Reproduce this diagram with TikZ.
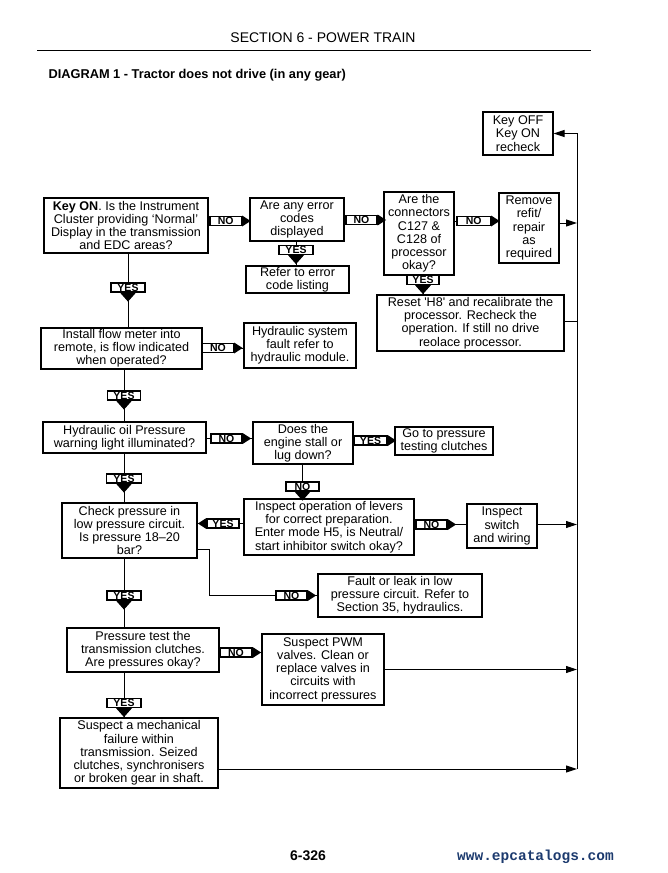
\documentclass[tikz,border=0pt]{standalone}
\usepackage{fontspec}
\setmainfont{Liberation Sans}
\newfontfamily\urlfont{Liberation Mono}
\usetikzlibrary{arrows.meta}
\definecolor{urlblue}{RGB}{28,58,110}
\pgfdeclarelayer{bg}
\pgfsetlayers{bg,main}
\newcommand\tipright[1]{\fill (#1.east) ++(0,-5.5) -- ++(8.5,5.5) -- ++(-8.5,5.5) -- cycle;}
\newcommand\tipleft[1]{\fill (#1.west) ++(0,-5.5) -- ++(-8.5,5.5) -- ++(8.5,5.5) -- cycle;}
\newcommand\tipdown[1]{\fill (#1.south) ++(-8,0) -- ++(8,9) -- ++(8,-9) -- cycle;}
\begin{document}
\begin{tikzpicture}[x=1pt,y=-1pt,
  box/.style={draw, line width=1.2pt, align=center, inner sep=0pt, fill=white,
    font=\fontsize{12.6}{13.2}\selectfont},
  tag/.style={draw, fill=white, line width=1.2pt, inner sep=0pt, minimum height=9pt,
    font=\bfseries\fontsize{10.5}{10.5}\selectfont},
  link/.style={line width=1pt},
  feed/.style={line width=1pt, -{Triangle[length=11pt,width=7pt]}},
]
\useasboundingbox (0,0) rectangle (667,873);

% header
\node (hdr) at (323,38) {\fontsize{14}{14}\selectfont SECTION 6 - POWER TRAIN};
\draw[line width=1pt] (37,50) -- (591,50);
\node[anchor=west] (dtitle) at (45,75) {\bfseries\fontsize{12.8}{12.8}\selectfont DIAGRAM 1 - Tractor does not drive (in any gear)};

% boxes
\node[box, minimum width=164pt, minimum height=55pt] (keyon) at (126,225.5)
  {\textbf{Key ON}. Is the Instrument\\Cluster providing `Normal'\\Display in the transmission\\and EDC areas?};
\node[box, minimum width=94pt, minimum height=43pt] (err) at (297,219.5)
  {Are any error\\codes\\displayed};
\node[box, minimum width=103pt, minimum height=27pt] (refer) at (297.5,279.5)
  {Refer to error\\code listing};
\node[box, minimum width=70pt, minimum height=83pt] (conn) at (419,233.5)
  {Are the\\connectors\\C127 \&\\C128 of\\processor\\okay?};
\node[box, minimum width=60pt, minimum height=70pt] (remove) at (529,228)
  {Remove\\refit/\\repair\\as\\required};
\node[box, minimum width=70pt, minimum height=43pt] (keyoff) at (518,133.5)
  {Key OFF\\Key ON\\recheck};
\node[box, minimum width=187pt, minimum height=56pt] (reset) at (470.5,323)
  {Reset \textquotesingle H8\textquotesingle\ and recalibrate the\\processor. Recheck the\\operation. If still no drive\\reolace processor.};
\node[box, minimum width=161pt, minimum height=41pt] (install) at (121.5,348.5)
  {Install flow meter into\\remote, is flow indicated\\when operated?};
\node[box, minimum width=112pt, minimum height=45pt] (hydsys) at (300,345.5)
  {Hydraulic system\\fault refer to\\hydraulic module.};
\node[box, minimum width=163pt, minimum height=31pt] (hydoil) at (124.5,437.5)
  {Hydraulic oil Pressure\\warning light illuminated?};
\node[box, minimum width=100pt, minimum height=42pt] (does) at (303,443)
  {Does the\\engine stall or\\lug down?};
\node[box, minimum width=98pt, minimum height=28pt] (goto) at (444,441)
  {Go to pressure\\testing clutches};
\node[box, minimum width=170pt, minimum height=56pt] (inspect) at (329,527)
  {Inspect operation of levers\\for correct preparation.\\Enter mode H5, is Neutral/\\start inhibitor switch okay?};
\node[box, minimum width=70pt, minimum height=44pt] (switch) at (502,526)
  {Inspect\\switch\\and wiring};
\node[box, minimum width=135pt, minimum height=55pt] (check) at (129.5,530.5)
  {Check pressure in\\low pressure circuit.\\Is pressure 18--20\\bar?};
\node[box, minimum width=164pt, minimum height=43pt] (fault) at (400,595.5)
  {Fault or leak in low\\pressure circuit. Refer to\\Section 35, hydraulics.};
\node[box, minimum width=152pt, minimum height=44pt] (pressure) at (143,650)
  {Pressure test the\\transmission clutches.\\Are pressures okay?};
\node[box, minimum width=122pt, minimum height=71pt] (pwm) at (323,669.5)
  {Suspect PWM\\valves. Clean or\\replace valves in\\circuits with\\incorrect pressures};
\node[box, minimum width=158pt, minimum height=70pt] (mech) at (139,753)
  {Suspect a mechanical\\failure within\\transmission. Seized\\clutches, synchronisers\\or broken gear in shaft.};

% YES / NO tags
\node[tag, minimum width=31.5pt] (t1) at (225.75,221) {NO};
\node[tag, minimum width=31pt] (t2) at (361.5,220) {NO};
\node[tag, minimum width=33.5pt] (t3) at (473.75,221) {NO};
\node[tag, minimum width=34pt] (t4) at (296,250) {YES};
\node[tag, minimum width=32pt] (t5) at (423,280) {YES};
\node[tag, minimum width=34pt] (t6) at (128,287.5) {YES};
\node[tag, minimum width=31pt] (t7) at (218,348) {NO};
\node[tag, minimum width=33pt] (t8) at (124,395.5) {YES};
\node[tag, minimum width=31pt] (t9) at (226.5,438.5) {NO};
\node[tag, minimum width=33pt] (t10) at (370.5,440.5) {YES};
\node[tag, minimum width=33pt] (t11) at (302.5,486.5) {NO};
\node[tag, minimum width=31pt] (t12) at (431.5,524.5) {NO};
\node[tag, minimum width=32pt] (t13) at (223,523.5) {YES};
\node[tag, minimum width=35pt] (t14) at (124,478.5) {YES};
\node[tag, minimum width=34pt] (t15) at (124,595.5) {YES};
\node[tag, minimum width=31pt] (t16) at (291.5,595.5) {NO};
\node[tag, minimum width=32pt] (t17) at (236,652.5) {NO};
\node[tag, minimum width=34pt] (t18) at (124,703) {YES};

\tipright{t1}\tipright{t2}\tipright{t3}\tipdown{t4}\tipdown{t5}\tipdown{t6}
\tipright{t7}\tipdown{t8}\tipright{t9}\tipright{t10}\tipdown{t11}\tipright{t12}
\tipleft{t13}\tipdown{t14}\tipdown{t15}\tipright{t16}\tipright{t17}\tipdown{t18}

\coordinate (railtop) at (577,133.5);
\coordinate (railbot) at (577,769);
\coordinate (bend) at (209,595.5);

% connectors (behind)
\begin{pgfonlayer}{bg}
\draw[link] (keyon.east |- t1) -- (err.west |- t1);
\draw[link] (err.east |- t2) -- (conn.west |- t2);
\draw[link] (conn.east |- t3) -- (remove.west |- t3);
\draw[link] (err.south -| t4) -- (refer.north -| t4);
\draw[link] (conn.south -| t5) -- (reset.north -| t5);
\draw[link] (keyon.south -| t6) -- (install.north -| t6);
\draw[link] (install.east |- t7) -- (hydsys.west |- t7);
\draw[link] (install.south -| t8) -- (hydoil.north -| t8);
\draw[link] (hydoil.east |- t9) -- (does.west |- t9);
\draw[link] (does.east |- t10) -- (goto.west |- t10);
\draw[link] (does.south -| t11) -- (inspect.north -| t11);
\draw[link] (inspect.east |- t12) -- (switch.west |- t12);
\draw[link] (inspect.west |- t13) -- (check.east |- t13);
\draw[link] (hydoil.south -| t14) -- (check.north -| t14);
\draw[link] (check.south -| t15) -- (pressure.north -| t15);
\draw[link] ([yshift=-18.5pt]check.east) -| (bend) -- (fault.west |- bend);
\draw[link] (pressure.east |- t17) -- (pwm.west |- t17);
\draw[link] (pressure.south -| t18) -- (mech.north -| t18);
\draw[feed] (railbot) -- (railtop) -- (keyoff.east);
\draw[feed] ([yshift=5pt]remove.east) -- ([yshift=5pt]remove.east -| railtop);
\draw[link] ([yshift=2pt]reset.east) -- ([yshift=2pt]reset.east -| railtop);
\draw[feed] ([yshift=1.5pt]switch.east) -- ([yshift=1.5pt]switch.east -| railtop);
\draw[feed] (pwm.east) -- (pwm.east -| railtop);
\draw[feed] (mech.east |- railbot) -- (railbot);
\end{pgfonlayer}

% footer
\node (pg) at (308,856) {\bfseries\fontsize{14}{14}\selectfont 6-326};
\node (url) at (535.5,857) {\urlfont\bfseries\color{urlblue}\fontsize{14.5}{14.5}\selectfont www.epcatalogs.com};
\end{tikzpicture}
\end{document}
